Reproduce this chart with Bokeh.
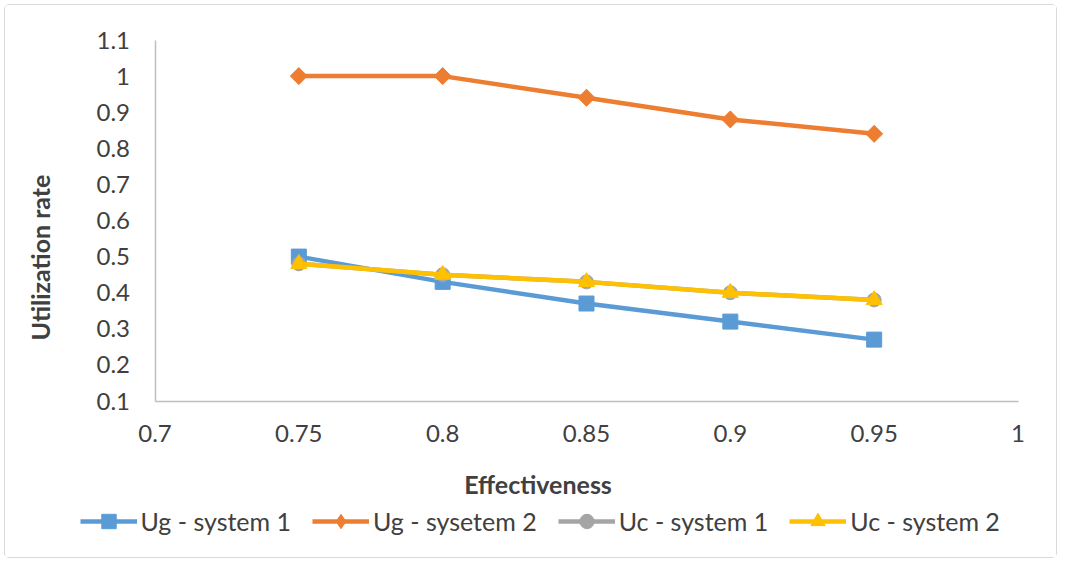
import numpy as np
from bokeh.plotting import figure
from bokeh.models import Range1d, FixedTicker, Legend, LegendItem, Label
from bokeh.embed import file_html
from bokeh.resources import INLINE

# ---- data ----
effectiveness = [0.75, 0.8, 0.85, 0.9, 0.95]
ug_system1 = [0.50, 0.43, 0.37, 0.32, 0.27]
ug_system2 = [1.00, 1.00, 0.94, 0.88, 0.84]
uc_system1 = [0.48, 0.45, 0.43, 0.40, 0.38]
uc_system2 = [0.48, 0.45, 0.43, 0.40, 0.38]
series_names = ["Ug - system 1", "Ug - sysetem 2", "Uc - system 1", "Uc - system 2"]
x_ticks = [0.7, 0.75, 0.8, 0.85, 0.9, 0.95, 1.0]
x_tick_labels = ["0.7", "0.75", "0.8", "0.85", "0.9", "0.95", "1"]
y_ticks = [0.1, 0.2, 0.3, 0.4, 0.5, 0.6, 0.7, 0.8, 0.9, 1.0, 1.1]
y_tick_labels = ["0.1", "0.2", "0.3", "0.4", "0.5", "0.6", "0.7", "0.8", "0.9", "1", "1.1"]
x_title = "Effectiveness"
y_title = "Utilization rate"

# ---- layout (pixels) ----
W, H = 1053, 554            # canvas size
AX_L, AX_R = 149.5, 1012.5  # x pixel of x=0.7 and x=1.0 inside canvas
AX_T, AX_B = 34.5, 395.5    # y pixel of y=1.1 and y=0.1 inside canvas
x0, x1 = x_ticks[0], x_ticks[-1]
y0, y1 = y_ticks[0], y_ticks[-1]
kx = (AX_R - AX_L) / (x1 - x0)
ky = (AX_B - AX_T) / (y1 - y0)
xs = x0 - AX_L / kx
xe = xs + W / kx
ye = y1 + AX_T / ky
ys = ye - H / ky

FONT = "Lato"
TXT = "#404040"

p = figure(width=W, height=H, output_backend="svg", toolbar_location=None,
           x_range=Range1d(xs, xe), y_range=Range1d(ys, ye),
           min_border=0)
p.styles = {"border": "1.5px solid #d9d9d9", "border-radius": "5px",
            "margin-left": "4px", "margin-top": "4px"}
p.outline_line_color = None
p.xgrid.visible = False
p.ygrid.visible = False
p.background_fill_color = "white"
p.border_fill_color = "white"

for ax in (p.xaxis[0], p.yaxis[0]):
    ax.axis_line_color = "#bfbfbf"
    ax.axis_line_width = 1.5
    ax.major_tick_line_color = None
    ax.minor_tick_line_color = None
    ax.major_tick_in = 0
    ax.major_tick_out = 0
    ax.major_label_text_font = FONT
    ax.major_label_text_font_size = "24px"
    ax.major_label_text_color = TXT

p.xaxis.fixed_location = y0
p.yaxis.fixed_location = x0
p.xaxis.bounds = (x0, x1)
p.yaxis.bounds = (y0, y1)
p.xaxis.ticker = FixedTicker(ticks=x_ticks)
p.yaxis.ticker = FixedTicker(ticks=y_ticks)
p.xaxis.major_label_overrides = dict(zip(x_ticks, x_tick_labels))
p.yaxis.major_label_overrides = dict(zip(y_ticks, y_tick_labels))
p.xaxis.major_label_standoff = 24
p.yaxis.major_label_standoff = 25

colors = ["#5b9bd5", "#ed7d31", "#a5a5a5", "#ffc000"]
markers = ["square", "diamond", "circle", "triangle"]
sizes = [15, 16, 14, 16]
series = [ug_system1, ug_system2, uc_system1, uc_system2]

items = []
for name, ys_, c, m, s in zip(series_names, series, colors, markers, sizes):
    lr = p.line(effectiveness, ys_, line_color=c, line_width=4.5)
    sr = p.scatter(effectiveness, ys_, marker=m, size=s, fill_color=c, line_color=c)
    if m == "diamond":
        # Excel-style diamond (rotated square) drawn over the narrower legend diamond
        p.scatter(effectiveness, ys_, marker="square", size=12, angle=np.pi / 4,
                  fill_color=c, line_color=c)
    items.append(LegendItem(label=name, renderers=[lr, sr]))

p.add_layout(Label(x=x0, y=y0, x_offset=383, y_offset=-83, text=x_title,
                   text_align="center", text_baseline="middle",
                   text_font=FONT, text_font_size="25px", text_font_style="bold",
                   text_color=TXT))
p.add_layout(Label(x=x0, y=(y0 + y1) / 2, x_offset=-115, y_offset=-37, text=y_title,
                   angle=np.pi / 2, text_align="center", text_baseline="middle",
                   text_font=FONT, text_font_size="25px", text_font_style="bold",
                   text_color=TXT))

legend = Legend(items=items, orientation="horizontal", location=(74.5, 20.5),
                glyph_width=57, glyph_height=36, label_standoff=4, spacing=21,
                padding=0, margin=0, border_line_color=None, background_fill_alpha=0,
                label_text_font=FONT, label_text_font_size="25px", label_text_color=TXT)
p.add_layout(legend)

open("out.html", "w").write(file_html(p, INLINE))
